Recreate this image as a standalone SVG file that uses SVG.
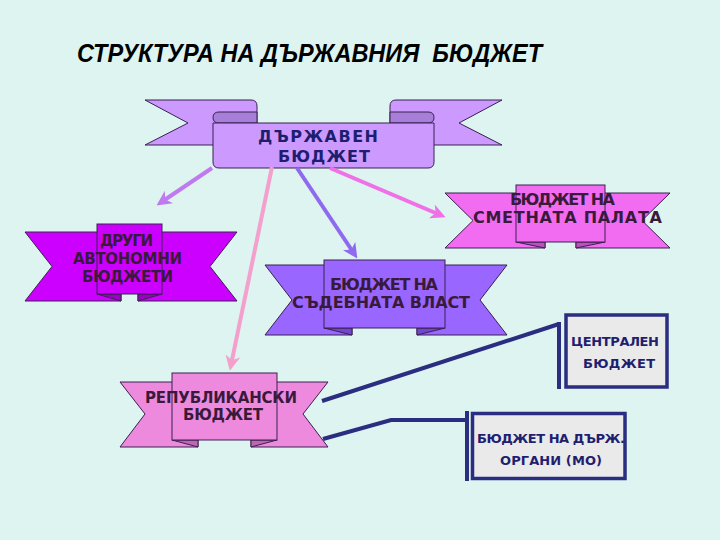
<svg xmlns="http://www.w3.org/2000/svg" width="720" height="540" viewBox="0 0 720 540">
<style>
.title{font-family:"Liberation Sans",Arial,sans-serif;font-weight:bold;font-style:italic;font-size:25px;fill:#000}
.rb{stroke:#3A2050;stroke-width:1;stroke-linejoin:miter}
.lbl{font-family:"DejaVu Sans",Verdana,sans-serif;font-weight:bold;font-size:15px;fill:#3A1A3A}
.wide{font-size:16px}
.top{fill:#1E1E6E;font-size:16px}
.box{fill:#EAEAEA;stroke:#2B2D80;stroke-width:3.5}
.btxt{font-family:"DejaVu Sans",Tahoma,sans-serif;font-weight:bold;font-size:13px;fill:#1F1F70}
.conn{fill:none;stroke:#2B2D80;stroke-width:4}
.arr{fill:none;stroke-width:4}
</style>
<defs>
<marker id="ahLilac" viewBox="0 0 14 14" refX="5" refY="7" markerWidth="15" markerHeight="15" markerUnits="userSpaceOnUse" orient="auto"><path d="M0,0 L14,7 L0,14 L4,7 Z" fill="#C07AF0"/></marker>
<marker id="ahPink" viewBox="0 0 14 14" refX="5" refY="7" markerWidth="15" markerHeight="15" markerUnits="userSpaceOnUse" orient="auto"><path d="M0,0 L14,7 L0,14 L4,7 Z" fill="#F4A0CC"/></marker>
<marker id="ahViolet" viewBox="0 0 14 14" refX="5" refY="7" markerWidth="15" markerHeight="15" markerUnits="userSpaceOnUse" orient="auto"><path d="M0,0 L14,7 L0,14 L4,7 Z" fill="#8F6AEE"/></marker>
<marker id="ahMagenta" viewBox="0 0 14 14" refX="5" refY="7" markerWidth="15" markerHeight="15" markerUnits="userSpaceOnUse" orient="auto"><path d="M0,0 L14,7 L0,14 L4,7 Z" fill="#F070E8"/></marker>
</defs>
<rect x="0" y="0" width="720" height="540" fill="#DDF4F1"/>
<text class="title" x="77" y="62" textLength="465" lengthAdjust="spacingAndGlyphs" xml:space="preserve">СТРУКТУРА НА ДЪРЖАВНИЯ  БЮДЖЕТ</text>

<g id="state-budget">
 <path class="rb" fill="#CC99FF" d="M145,100 H251 Q257,100 257,106 V145 H145 L188,123 Z"/>
 <path class="rb" fill="#CC99FF" d="M502,100 H396 Q390,100 390,106 V145 H502 L459,123 Z"/>
 <path class="rb" fill="#A87FD8" d="M219,112 H257 V123 H219 Q213,123 213,117.5 Q213,112 219,112 Z"/>
 <path class="rb" fill="#A87FD8" d="M428,112 H390 V123 H428 Q434,123 434,117.5 Q434,112 428,112 Z"/>
 <path class="rb" fill="#CC99FF" d="M213,123 H434 V162 Q434,168 428,168 H219 Q213,168 213,162 Z"/>
 <text class="lbl top" x="258" y="142" textLength="120" lengthAdjust="spacing">ДЪРЖАВЕН</text>
 <text class="lbl top" x="278" y="162" textLength="92" lengthAdjust="spacing">БЮДЖЕТ</text>
</g>

<g id="audit-office-budget">
 <path class="rb" fill="#F26CF2" d="M445,193 H545 V248 H445 L473,220.5 Z"/>
 <path class="rb" fill="#F26CF2" d="M670,193 H576 V248 H670 L642,220.5 Z"/>
 <path class="rb" fill="#C04EC0" d="M516,242 H545 V248 Z"/>
 <path class="rb" fill="#C04EC0" d="M605,242 H576 V248 Z"/>
 <rect class="rb" fill="#F26CF2" x="516" y="185" width="89" height="57"/>
 <text class="lbl wide" x="510" y="205" textLength="105" lengthAdjust="spacing">БЮДЖЕТ НА</text>
 <text class="lbl wide" x="473" y="223" textLength="189" lengthAdjust="spacing">СМЕТНАТА ПАЛАТА</text>
</g>

<g id="other-autonomous-budgets">
 <path class="rb" fill="#CC00FF" d="M25,232 H121 V301 H25 L52,266.5 Z"/>
 <path class="rb" fill="#CC00FF" d="M237,232 H138 V301 H237 L210,266.5 Z"/>
 <path class="rb" fill="#9A00C4" d="M97,294 H121 V301 Z"/>
 <path class="rb" fill="#9A00C4" d="M162,294 H138 V301 Z"/>
 <rect class="rb" fill="#CC00FF" x="97" y="224" width="65" height="70"/>
 <text class="lbl" x="100" y="246" textLength="53" lengthAdjust="spacing">ДРУГИ</text>
 <text class="lbl" x="73" y="264" textLength="109" lengthAdjust="spacing">АВТОНОМНИ</text>
 <text class="lbl" x="82" y="282" textLength="91" lengthAdjust="spacing">БЮДЖЕТИ</text>
</g>

<g id="judiciary-budget">
 <path class="rb" fill="#9966FF" d="M265,265 H352 V335 H265 L292,300 Z"/>
 <path class="rb" fill="#9966FF" d="M507,265 H417 V335 H507 L480,300 Z"/>
 <path class="rb" fill="#7048D0" d="M324,328 H352 V335 Z"/>
 <path class="rb" fill="#7048D0" d="M445,328 H417 V335 Z"/>
 <rect class="rb" fill="#9966FF" x="324" y="260" width="121" height="68"/>
 <text class="lbl wide" x="330" y="290" textLength="108" lengthAdjust="spacing">БЮДЖЕТ НА</text>
 <text class="lbl wide" x="292" y="308" textLength="178" lengthAdjust="spacing">СЪДЕБНАТА ВЛАСТ</text>
</g>

<g id="republican-budget">
 <path class="rb" fill="#EE8ADE" d="M120,382 H198 V447 H120 L145,414 Z"/>
 <path class="rb" fill="#EE8ADE" d="M328,382 H251 V447 H328 L303,414 Z"/>
 <path class="rb" fill="#C066B0" d="M172,440 H198 V447 Z"/>
 <path class="rb" fill="#C066B0" d="M277,440 H251 V447 Z"/>
 <rect class="rb" fill="#EE8ADE" x="172" y="373" width="105" height="67"/>
 <text class="lbl" x="145" y="403" textLength="152" lengthAdjust="spacing">РЕПУБЛИКАНСКИ</text>
 <text class="lbl" x="183" y="420" textLength="80" lengthAdjust="spacing">БЮДЖЕТ</text>
</g>

<g id="central-budget">
 <rect class="box" x="566" y="315" width="101" height="72"/>
 <text class="btxt" x="571" y="346" textLength="88" lengthAdjust="spacing">ЦЕНТРАЛЕН</text>
 <text class="btxt" x="583" y="368" textLength="72" lengthAdjust="spacing">БЮДЖЕТ</text>
</g>

<g id="state-bodies-budget">
 <rect class="box" x="472.5" y="413.5" width="152.5" height="65"/>
 <text class="btxt" x="477" y="443" textLength="148" lengthAdjust="spacing">БЮДЖЕТ НА ДЪРЖ.</text>
 <text class="btxt" x="500" y="465" textLength="102" lengthAdjust="spacing">ОРГАНИ (МО)</text>
</g>

<g id="connectors">
 <line class="arr" stroke="#C07AF0" x1="212" y1="168" x2="164.5" y2="200" marker-end="url(#ahLilac)"/>
 <line class="arr" stroke="#F4A0CC" x1="272" y1="167" x2="231.8" y2="361.2" marker-end="url(#ahPink)"/>
 <line class="arr" stroke="#8F6AEE" stroke-width="4.5" x1="297" y1="168" x2="352" y2="250.5" marker-end="url(#ahViolet)"/>
 <line class="arr" stroke="#F070E8" x1="330" y1="168" x2="436.7" y2="213.5" marker-end="url(#ahMagenta)"/>
 <line class="conn" x1="322" y1="401" x2="559" y2="324"/>
 <polyline class="conn" points="323,439 391,420 467,420"/>
 <line class="conn" x1="559" y1="322" x2="559" y2="389"/>
 <line class="conn" x1="467" y1="411" x2="467" y2="481"/>
</g>
</svg>
